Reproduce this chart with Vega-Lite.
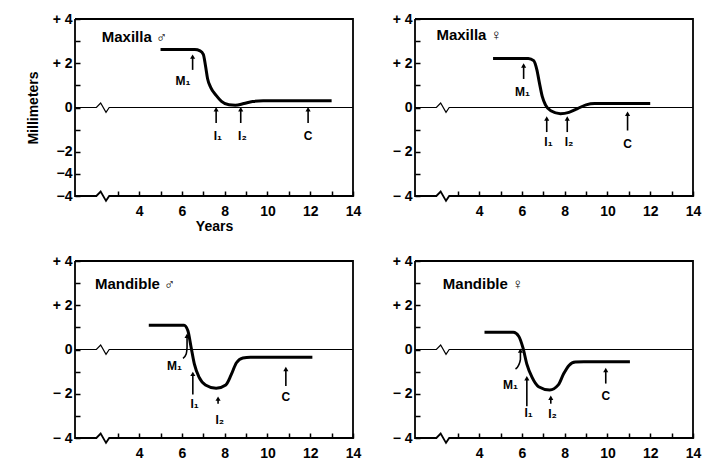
{
  "$schema": "https://vega.github.io/schema/vega-lite/v6.json",
  "background": "white",
  "padding": {"left": 26, "top": 12, "right": 5, "bottom": 5},
  "config": {
    "view": {"stroke": null},
    "font": "Liberation Sans",
    "axis": {
      "labelFont": "Liberation Sans", "labelFontSize": 14, "labelColor": "black", "labelFontWeight": "bold",
      "titleFont": "Liberation Sans", "titleFontSize": 14, "titleColor": "black", "titleFontWeight": "bold",
      "tickColor": "black", "tickWidth": 1.5, "tickSize": -5, "domain": false, "grid": false,
      "labelOverlap": false, "labelFlush": false, "labelBound": false
    },
    "text": {"font": "Liberation Sans", "fontSize": 12, "fontWeight": "bold", "color": "black"}
  },
  "datasets": {
    "frame": [
      {"i": 0, "x": 1, "y": 4}, {"i": 1, "x": 14, "y": 4}, {"i": 2, "x": 14, "y": -4},
      {"i": 3, "x": 2.6, "y": -4}, {"i": 4, "x": 2.45, "y": -4.22}, {"i": 5, "x": 2.2, "y": -3.8},
      {"i": 6, "x": 2.0, "y": -4}, {"i": 7, "x": 1, "y": -4}, {"i": 8, "x": 1, "y": 4}
    ],
    "zero": [
      {"i": 0, "x": 1, "y": 0}, {"i": 1, "x": 2.0, "y": 0}, {"i": 2, "x": 2.2, "y": 0.2},
      {"i": 3, "x": 2.45, "y": -0.22}, {"i": 4, "x": 2.6, "y": 0}, {"i": 5, "x": 14, "y": 0}
    ],
    "curves": [
      {"p": "TL", "x": 5.0, "y": 2.62}, {"p": "TL", "x": 6.6, "y": 2.62}, {"p": "TL", "x": 6.85, "y": 2.56},
      {"p": "TL", "x": 7.0, "y": 2.4}, {"p": "TL", "x": 7.1, "y": 1.9}, {"p": "TL", "x": 7.2, "y": 1.3},
      {"p": "TL", "x": 7.35, "y": 0.9}, {"p": "TL", "x": 7.6, "y": 0.55}, {"p": "TL", "x": 7.85, "y": 0.28},
      {"p": "TL", "x": 8.2, "y": 0.12}, {"p": "TL", "x": 8.5, "y": 0.1}, {"p": "TL", "x": 8.9, "y": 0.18},
      {"p": "TL", "x": 9.3, "y": 0.27}, {"p": "TL", "x": 9.8, "y": 0.3}, {"p": "TL", "x": 13.0, "y": 0.3},

      {"p": "TR", "x": 4.65, "y": 2.22}, {"p": "TR", "x": 6.3, "y": 2.22}, {"p": "TR", "x": 6.55, "y": 2.12},
      {"p": "TR", "x": 6.7, "y": 1.7}, {"p": "TR", "x": 6.82, "y": 1.1}, {"p": "TR", "x": 6.95, "y": 0.5},
      {"p": "TR", "x": 7.1, "y": 0.12}, {"p": "TR", "x": 7.35, "y": -0.15}, {"p": "TR", "x": 7.8, "y": -0.28},
      {"p": "TR", "x": 8.2, "y": -0.22}, {"p": "TR", "x": 8.6, "y": -0.05}, {"p": "TR", "x": 9.0, "y": 0.12},
      {"p": "TR", "x": 9.4, "y": 0.18}, {"p": "TR", "x": 12.0, "y": 0.18},

      {"p": "BL", "x": 4.45, "y": 1.1}, {"p": "BL", "x": 6.1, "y": 1.1}, {"p": "BL", "x": 6.28, "y": 0.85},
      {"p": "BL", "x": 6.42, "y": 0.15}, {"p": "BL", "x": 6.58, "y": -0.65}, {"p": "BL", "x": 6.8, "y": -1.25},
      {"p": "BL", "x": 7.1, "y": -1.6}, {"p": "BL", "x": 7.6, "y": -1.75}, {"p": "BL", "x": 8.05, "y": -1.6},
      {"p": "BL", "x": 8.3, "y": -1.15}, {"p": "BL", "x": 8.55, "y": -0.6}, {"p": "BL", "x": 8.85, "y": -0.38},
      {"p": "BL", "x": 9.2, "y": -0.35}, {"p": "BL", "x": 12.1, "y": -0.35},

      {"p": "BR", "x": 4.25, "y": 0.78}, {"p": "BR", "x": 5.6, "y": 0.78}, {"p": "BR", "x": 5.85, "y": 0.6},
      {"p": "BR", "x": 6.05, "y": 0.07}, {"p": "BR", "x": 6.23, "y": -0.66}, {"p": "BR", "x": 6.47, "y": -1.25},
      {"p": "BR", "x": 6.78, "y": -1.68}, {"p": "BR", "x": 7.3, "y": -1.83}, {"p": "BR", "x": 7.7, "y": -1.6},
      {"p": "BR", "x": 7.95, "y": -1.1}, {"p": "BR", "x": 8.2, "y": -0.72}, {"p": "BR", "x": 8.5, "y": -0.56},
      {"p": "BR", "x": 8.9, "y": -0.55}, {"p": "BR", "x": 11.05, "y": -0.55}
    ],
    "arrows": [
      {"p": "TL", "id": "M1", "i": 0, "x": 6.5, "y": 2.3}, {"p": "TL", "id": "M1", "i": 1, "x": 6.5, "y": 1.7},
      {"p": "TL", "id": "I1", "i": 0, "x": 7.6, "y": -0.08}, {"p": "TL", "id": "I1", "i": 1, "x": 7.6, "y": -0.7},
      {"p": "TL", "id": "I2", "i": 0, "x": 8.75, "y": -0.08}, {"p": "TL", "id": "I2", "i": 1, "x": 8.75, "y": -0.7},
      {"p": "TL", "id": "C", "i": 0, "x": 11.9, "y": -0.08}, {"p": "TL", "id": "C", "i": 1, "x": 11.9, "y": -0.7},

      {"p": "TR", "id": "M1", "i": 0, "x": 6.08, "y": 1.9}, {"p": "TR", "id": "M1", "i": 1, "x": 6.08, "y": 1.29},
      {"p": "TR", "id": "I1", "i": 0, "x": 7.16, "y": -0.5}, {"p": "TR", "id": "I1", "i": 1, "x": 7.16, "y": -1.11},
      {"p": "TR", "id": "I2", "i": 0, "x": 8.12, "y": -0.5}, {"p": "TR", "id": "I2", "i": 1, "x": 8.12, "y": -1.11},
      {"p": "TR", "id": "C", "i": 0, "x": 10.94, "y": -0.28}, {"p": "TR", "id": "C", "i": 1, "x": 10.94, "y": -1.04},

      {"p": "BL", "id": "M1", "i": 0, "x": 6.24, "y": 0.62}, {"p": "BL", "id": "M1", "i": 1, "x": 6.24, "y": 0.1},
      {"p": "BL", "id": "M1", "i": 2, "x": 6.2, "y": -0.2}, {"p": "BL", "id": "M1", "i": 3, "x": 6.05, "y": -0.4},
      {"p": "BL", "id": "I1", "i": 0, "x": 6.51, "y": -1.1}, {"p": "BL", "id": "I1", "i": 1, "x": 6.51, "y": -2.03},
      {"p": "BL", "id": "I2", "i": 0, "x": 7.69, "y": -2.22}, {"p": "BL", "id": "I2", "i": 1, "x": 7.69, "y": -2.45},
      {"p": "BL", "id": "C", "i": 0, "x": 10.86, "y": -0.88}, {"p": "BL", "id": "C", "i": 1, "x": 10.86, "y": -1.65},

      {"p": "BR", "id": "M1", "i": 0, "x": 5.93, "y": -0.05}, {"p": "BR", "id": "M1", "i": 1, "x": 5.93, "y": -0.45},
      {"p": "BR", "id": "M1", "i": 2, "x": 5.85, "y": -0.7}, {"p": "BR", "id": "M1", "i": 3, "x": 5.7, "y": -0.88},
      {"p": "BR", "id": "I1", "i": 0, "x": 6.23, "y": -1.3}, {"p": "BR", "id": "I1", "i": 1, "x": 6.23, "y": -2.56},
      {"p": "BR", "id": "I2", "i": 0, "x": 7.35, "y": -2.18}, {"p": "BR", "id": "I2", "i": 1, "x": 7.35, "y": -2.45},
      {"p": "BR", "id": "C", "i": 0, "x": 9.92, "y": -0.93}, {"p": "BR", "id": "C", "i": 1, "x": 9.92, "y": -1.54}
    ],
    "labels": [
      {"p": "TL", "x": 6.05, "y": 1.2, "t": "M₁"}, {"p": "TL", "x": 7.68, "y": -1.3, "t": "I₁"},
      {"p": "TL", "x": 8.83, "y": -1.3, "t": "I₂"}, {"p": "TL", "x": 11.9, "y": -1.3, "t": "C"},
      {"p": "TR", "x": 6.03, "y": 0.69, "t": "M₁"}, {"p": "TR", "x": 7.24, "y": -1.58, "t": "I₁"},
      {"p": "TR", "x": 8.2, "y": -1.58, "t": "I₂"}, {"p": "TR", "x": 10.94, "y": -1.64, "t": "C"},
      {"p": "BL", "x": 5.65, "y": -0.74, "t": "M₁"}, {"p": "BL", "x": 6.59, "y": -2.48, "t": "I₁"},
      {"p": "BL", "x": 7.77, "y": -3.17, "t": "I₂"}, {"p": "BL", "x": 10.86, "y": -2.15, "t": "C"},
      {"p": "BR", "x": 5.46, "y": -1.61, "t": "M₁"}, {"p": "BR", "x": 6.31, "y": -2.86, "t": "I₁"},
      {"p": "BR", "x": 7.43, "y": -2.93, "t": "I₂"}, {"p": "BR", "x": 9.92, "y": -2.08, "t": "C"}
    ],
    "titles": [
      {"p": "TL", "x": 2.25, "y": 3.2, "t": "Maxilla ♂"},
      {"p": "TR", "x": 2.0, "y": 3.27, "t": "Maxilla ♀"},
      {"p": "BL", "x": 1.93, "y": 2.95, "t": "Mandible ♂"},
      {"p": "BR", "x": 2.3, "y": 2.95, "t": "Mandible ♀"}
    ]
  },
  "columns": 2,
  "spacing": {"row": 65, "column": 62},
  "bounds": "flush",
  "concat": [
    {
      "width": 278, "height": 177,
      "encoding": {
        "x": {"field": "x", "type": "quantitative", "scale": {"domain": [1, 14], "nice": false, "zero": false},
              "axis": {"values": [3,4,5,6,7,8,9,10,11,12,13,14], "labelExpr": "datum.value % 2 == 0 ? datum.label : ''", "labelPadding": 13, "title": "Years", "titlePadding": 1}},
        "y": {"field": "y", "type": "quantitative", "scale": {"domain": [-4, 4], "nice": false, "zero": false},
              "axis": {"values": [-4,-3,-2,-1,0,1,2,3,4], "labelExpr": "datum.value == 4 ? '+ 4' : datum.value == 2 ? '+ 2' : datum.value == 0 ? '0' : datum.value == -2 ? '−2' : (datum.value == -3 || datum.value == -4) ? '−4' : ''", "labelPadding": 8, "title": "Millimeters", "titlePadding": 12}}
      },
      "layer": [
        {"data": {"name": "frame"}, "mark": {"type": "line", "color": "black", "strokeWidth": 1.8}, "encoding": {"order": {"field": "i"}}},
        {"data": {"name": "zero"}, "mark": {"type": "line", "color": "black", "strokeWidth": 1.2}, "encoding": {"order": {"field": "i"}}},
        {"data": {"name": "curves"}, "transform": [{"filter": "datum.p == 'TL'"}], "mark": {"type": "line", "color": "black", "strokeWidth": 3, "interpolate": "monotone"}, "encoding": {}},
        {"data": {"name": "arrows"}, "transform": [{"filter": "datum.p == 'TL'"}], "mark": {"type": "line", "color": "black", "strokeWidth": 1.6, "interpolate": "monotone"}, "encoding": {"detail": {"field": "id"}, "order": {"field": "i"}}},
        {"data": {"name": "arrows"}, "transform": [{"filter": "datum.p == 'TL' && datum.i == 0"}], "mark": {"type": "point", "shape": "triangle-up", "filled": true, "color": "black", "size": 26, "opacity": 1}, "encoding": {}},
        {"data": {"name": "labels"}, "transform": [{"filter": "datum.p == 'TL'"}], "mark": {"type": "text", "baseline": "middle", "align": "center"}, "encoding": {"text": {"field": "t"}}},
        {"data": {"name": "titles"}, "transform": [{"filter": "datum.p == 'TL'"}], "mark": {"type": "text", "baseline": "middle", "align": "left", "fontSize": 15}, "encoding": {"text": {"field": "t"}}}
      ]
    },
    {
      "width": 278, "height": 177,
      "encoding": {
        "x": {"field": "x", "type": "quantitative", "scale": {"domain": [1, 14], "nice": false, "zero": false},
              "axis": {"values": [3,4,5,6,7,8,9,10,11,12,13,14], "labelExpr": "datum.value % 2 == 0 ? datum.label : ''", "labelPadding": 13, "title": null}},
        "y": {"field": "y", "type": "quantitative", "scale": {"domain": [-4, 4], "nice": false, "zero": false},
              "axis": {"values": [-4,-3,-2,-1,0,1,2,3,4], "labelExpr": "datum.value == 4 ? '+ 4' : datum.value == 2 ? '+ 2' : datum.value == 0 ? '0' : datum.value == -2 ? '− 2' : datum.value == -4 ? '− 4' : ''", "labelPadding": 8, "title": null}}
      },
      "layer": [
        {"data": {"name": "frame"}, "mark": {"type": "line", "color": "black", "strokeWidth": 1.8}, "encoding": {"order": {"field": "i"}}},
        {"data": {"name": "zero"}, "mark": {"type": "line", "color": "black", "strokeWidth": 1.2}, "encoding": {"order": {"field": "i"}}},
        {"data": {"name": "curves"}, "transform": [{"filter": "datum.p == 'TR'"}], "mark": {"type": "line", "color": "black", "strokeWidth": 3, "interpolate": "monotone"}, "encoding": {}},
        {"data": {"name": "arrows"}, "transform": [{"filter": "datum.p == 'TR'"}], "mark": {"type": "line", "color": "black", "strokeWidth": 1.6, "interpolate": "monotone"}, "encoding": {"detail": {"field": "id"}, "order": {"field": "i"}}},
        {"data": {"name": "arrows"}, "transform": [{"filter": "datum.p == 'TR' && datum.i == 0"}], "mark": {"type": "point", "shape": "triangle-up", "filled": true, "color": "black", "size": 26, "opacity": 1}, "encoding": {}},
        {"data": {"name": "labels"}, "transform": [{"filter": "datum.p == 'TR'"}], "mark": {"type": "text", "baseline": "middle", "align": "center"}, "encoding": {"text": {"field": "t"}}},
        {"data": {"name": "titles"}, "transform": [{"filter": "datum.p == 'TR'"}], "mark": {"type": "text", "baseline": "middle", "align": "left", "fontSize": 15}, "encoding": {"text": {"field": "t"}}}
      ]
    },
    {
      "width": 278, "height": 177,
      "encoding": {
        "x": {"field": "x", "type": "quantitative", "scale": {"domain": [1, 14], "nice": false, "zero": false},
              "axis": {"values": [3,4,5,6,7,8,9,10,11,12,13,14], "labelExpr": "datum.value % 2 == 0 ? datum.label : ''", "labelPadding": 13, "title": null}},
        "y": {"field": "y", "type": "quantitative", "scale": {"domain": [-4, 4], "nice": false, "zero": false},
              "axis": {"values": [-4,-3,-2,-1,0,1,2,3,4], "labelExpr": "datum.value == 4 ? '+ 4' : datum.value == 2 ? '+ 2' : datum.value == 0 ? '0' : datum.value == -2 ? '− 2' : datum.value == -4 ? '− 4' : ''", "labelPadding": 8, "title": null}}
      },
      "layer": [
        {"data": {"name": "frame"}, "mark": {"type": "line", "color": "black", "strokeWidth": 1.8}, "encoding": {"order": {"field": "i"}}},
        {"data": {"name": "zero"}, "mark": {"type": "line", "color": "black", "strokeWidth": 1.2}, "encoding": {"order": {"field": "i"}}},
        {"data": {"name": "curves"}, "transform": [{"filter": "datum.p == 'BL'"}], "mark": {"type": "line", "color": "black", "strokeWidth": 3, "interpolate": "monotone"}, "encoding": {}},
        {"data": {"name": "arrows"}, "transform": [{"filter": "datum.p == 'BL'"}], "mark": {"type": "line", "color": "black", "strokeWidth": 1.6, "interpolate": "monotone"}, "encoding": {"detail": {"field": "id"}, "order": {"field": "i"}}},
        {"data": {"name": "arrows"}, "transform": [{"filter": "datum.p == 'BL' && datum.i == 0"}], "mark": {"type": "point", "shape": "triangle-up", "filled": true, "color": "black", "size": 26, "opacity": 1}, "encoding": {}},
        {"data": {"name": "labels"}, "transform": [{"filter": "datum.p == 'BL'"}], "mark": {"type": "text", "baseline": "middle", "align": "center"}, "encoding": {"text": {"field": "t"}}},
        {"data": {"name": "titles"}, "transform": [{"filter": "datum.p == 'BL'"}], "mark": {"type": "text", "baseline": "middle", "align": "left", "fontSize": 15}, "encoding": {"text": {"field": "t"}}}
      ]
    },
    {
      "width": 278, "height": 177,
      "encoding": {
        "x": {"field": "x", "type": "quantitative", "scale": {"domain": [1, 14], "nice": false, "zero": false},
              "axis": {"values": [3,4,5,6,7,8,9,10,11,12,13,14], "labelExpr": "datum.value % 2 == 0 ? datum.label : ''", "labelPadding": 13, "title": null}},
        "y": {"field": "y", "type": "quantitative", "scale": {"domain": [-4, 4], "nice": false, "zero": false},
              "axis": {"values": [-4,-3,-2,-1,0,1,2,3,4], "labelExpr": "datum.value == 4 ? '+ 4' : datum.value == 2 ? '+ 2' : datum.value == 0 ? '0' : datum.value == -2 ? '− 2' : datum.value == -4 ? '− 4' : ''", "labelPadding": 8, "title": null}}
      },
      "layer": [
        {"data": {"name": "frame"}, "mark": {"type": "line", "color": "black", "strokeWidth": 1.8}, "encoding": {"order": {"field": "i"}}},
        {"data": {"name": "zero"}, "mark": {"type": "line", "color": "black", "strokeWidth": 1.2}, "encoding": {"order": {"field": "i"}}},
        {"data": {"name": "curves"}, "transform": [{"filter": "datum.p == 'BR'"}], "mark": {"type": "line", "color": "black", "strokeWidth": 3, "interpolate": "monotone"}, "encoding": {}},
        {"data": {"name": "arrows"}, "transform": [{"filter": "datum.p == 'BR'"}], "mark": {"type": "line", "color": "black", "strokeWidth": 1.6, "interpolate": "monotone"}, "encoding": {"detail": {"field": "id"}, "order": {"field": "i"}}},
        {"data": {"name": "arrows"}, "transform": [{"filter": "datum.p == 'BR' && datum.i == 0"}], "mark": {"type": "point", "shape": "triangle-up", "filled": true, "color": "black", "size": 26, "opacity": 1}, "encoding": {}},
        {"data": {"name": "labels"}, "transform": [{"filter": "datum.p == 'BR'"}], "mark": {"type": "text", "baseline": "middle", "align": "center"}, "encoding": {"text": {"field": "t"}}},
        {"data": {"name": "titles"}, "transform": [{"filter": "datum.p == 'BR'"}], "mark": {"type": "text", "baseline": "middle", "align": "left", "fontSize": 15}, "encoding": {"text": {"field": "t"}}}
      ]
    }
  ]
}
